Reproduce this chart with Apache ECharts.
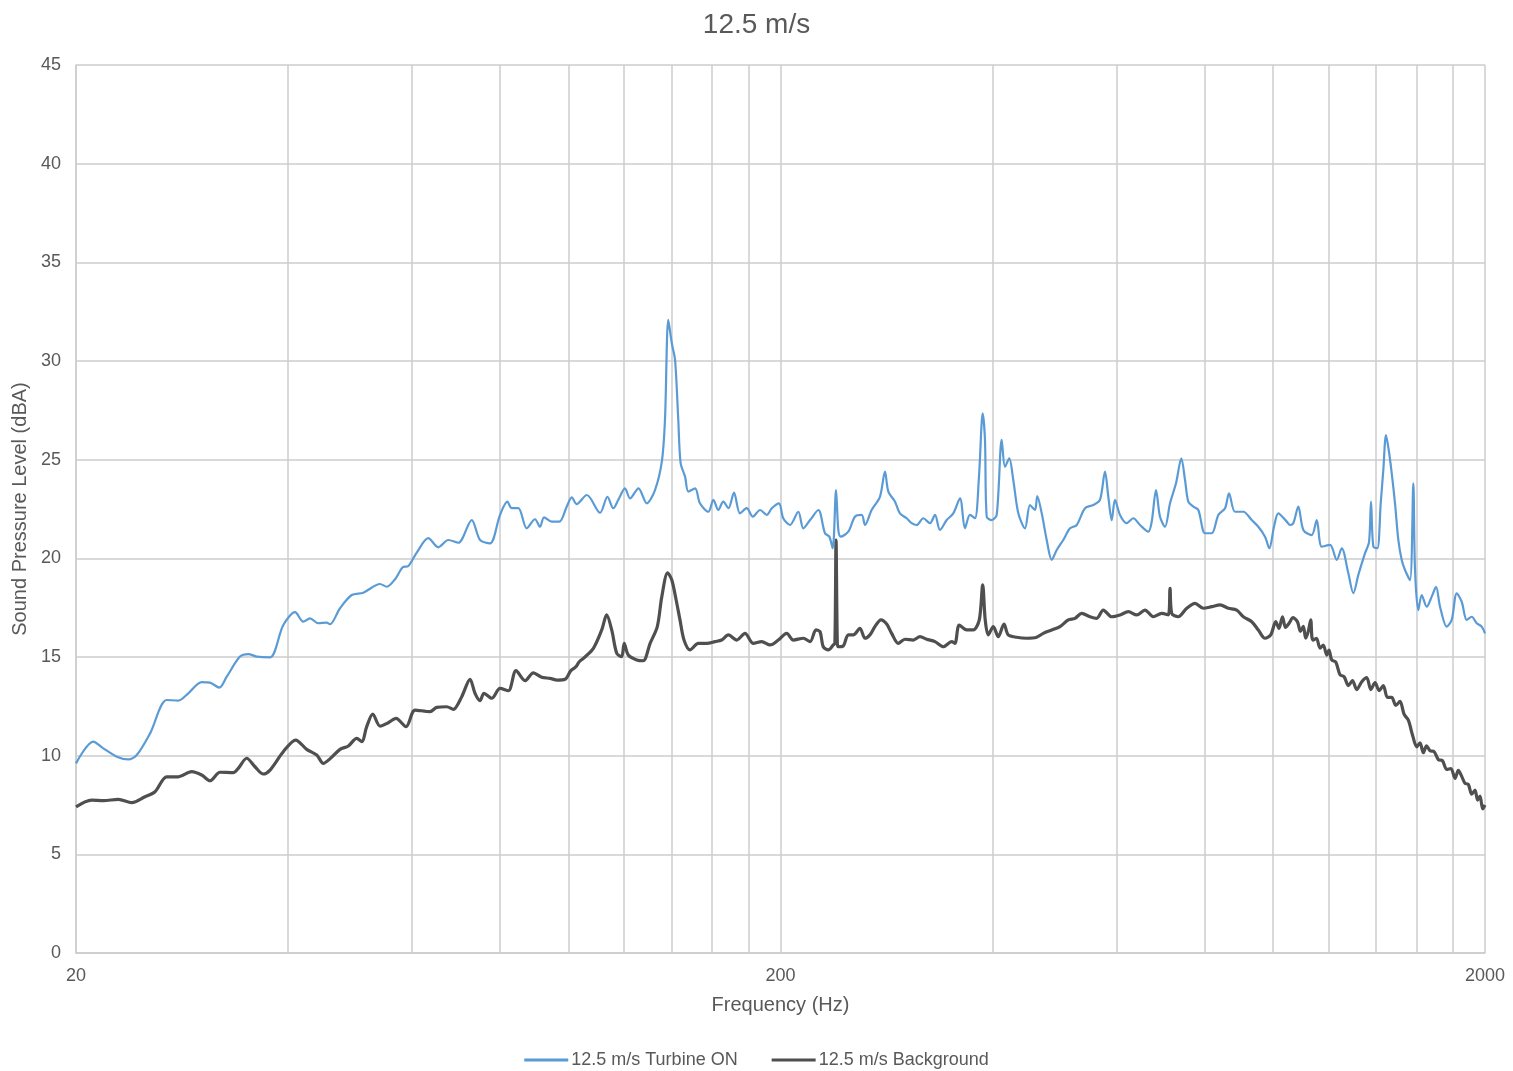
<!DOCTYPE html>
<html>
<head>
<meta charset="utf-8">
<script src="https://cdn.jsdelivr.net/npm/echarts@6/dist/echarts.min.js"></script>
<style>
html,body{margin:0;padding:0;background:#fff;}
#chart{width:1513px;height:1071px;}
</style>
</head>
<body>
<div id="chart"></div>
<script>
const titleText = '12.5 m/s';
const seriesNames = ['12.5 m/s Turbine ON', '12.5 m/s Background'];
const xTickLabels = [20, 200, 2000];
const xGridValues = [20,40,60,80,100,120,140,160,180,200,400,600,800,1000,1200,1400,1600,1800,2000];

const freqOn = [20,21.16,21.87,22.85,23.73,24.39,25.48,26.9,27.94,28.87,30.16,30.99,31.95,32.73,34.18,35.12,36.1,37.71,39.38,40.92,42.04,42.97,44.15,45.38,45.87,47.4,49.25,51.15,54.02,55.22,56.74,58.18,59.26,60.91,63.26,65.36,67.53,69.78,72.9,74.91,77.4,79.97,81.9,83.09,84.9,87.26,89.66,91.14,92.34,94.69,97.07,99.44,101.1,102.7,106.2,110.9,113.6,115.8,117.7,120.3,122.3,125.7,129.2,132.7,135.7,137.1,138.6,140.2,141.7,143.2,144.3,146.4,148,151.3,153.7,158,160.6,163.2,165.9,168.7,171.8,175.2,179.1,182.7,187.1,191.2,194.4,199,201.8,206.3,212,215.5,220.3,226.3,231.3,234.6,237.2,239.8,241.6,243.5,249.6,255.1,260.8,263.6,269.4,276.8,281.4,284.5,290.8,295.5,302.1,307.1,312.1,318.9,326,331.4,336.8,344.3,351.8,359.6,365.5,371.5,377.6,382.6,387.3,390.2,392.4,398.8,405.4,412.1,416.6,422.4,428,435.1,444.7,452,459.5,462.9,469.7,477.4,485.3,493.3,504,515.2,526.6,541.1,555.9,568.2,577.6,583.9,590.4,596.8,606.6,620.1,633.6,647.6,665.4,672.9,682.4,691.4,702.8,714.4,728.5,741.3,750.3,758.4,770.9,783.6,801,818.7,836.6,855.1,866.3,883.5,907.8,933.1,953.4,974.5,988.3,1003.6,1017.8,1046.2,1057.5,1069,1086.6,1104.5,1135.2,1153.9,1172.9,1205.2,1231.9,1252.2,1279.5,1300.6,1322,1351.3,1369.1,1378,1388.4,1406.7,1422.4,1434.5,1447.2,1460.1,1474.5,1490.4,1506.6,1523.4,1539.9,1565.3,1582.3,1591.1,1608.4,1626.3,1653.1,1680.4,1704.2,1726.6,1764.8,1793.9,1823.5,1853.5,1884.1,1915.1,1946.7,1978.5,2000];
const dbOn = [9.61,10.71,10.37,9.95,9.81,10.03,11.13,12.82,12.79,13.16,13.73,13.7,13.45,14,15.02,15.15,15.02,14.98,16.62,17.27,16.79,16.96,16.71,16.74,16.66,17.47,18.14,18.26,18.7,18.56,18.94,19.55,19.61,20.29,21.02,20.56,20.93,20.79,21.94,20.93,20.76,22.2,22.87,22.54,22.54,21.52,21.98,21.6,22.08,21.86,21.86,22.62,23.09,22.75,23.21,22.31,23.12,22.54,22.96,23.55,23.04,23.55,22.79,23.46,24.9,27.01,32.08,30.9,30.05,27.01,24.82,24.14,23.38,23.55,22.79,22.36,22.96,22.45,22.87,22.54,23.33,22.28,22.54,22.11,22.45,22.2,22.54,22.79,22.03,21.69,22.36,21.52,21.94,22.45,21.27,21.1,20.51,23.46,21.44,21.1,21.35,22.11,22.2,21.69,22.45,23.12,24.39,23.38,22.87,22.28,22.03,21.78,21.69,22.03,21.78,22.2,21.44,21.94,22.28,23.04,21.52,22.2,22.03,24.14,27.35,26,22.11,21.94,22.2,26,24.64,25.07,23.97,22.28,21.52,22.7,22.45,23.16,22.28,20.93,19.92,20.42,20.93,21.52,21.69,22.54,22.7,22.96,24.39,23.12,21.94,22.96,22.2,21.78,22.03,21.69,21.35,21.86,23.46,22.11,21.6,22.79,23.8,25.07,23.97,22.87,22.62,22.45,21.27,21.27,22.2,22.54,23.29,22.36,22.36,21.94,21.6,21.1,20.51,21.6,22.28,21.86,21.69,21.78,22.62,21.44,21.18,21.94,20.59,20.68,19.92,20.51,19.24,18.23,19.16,20.26,20.84,22.87,20.59,20.51,22.79,24.48,26.25,25.49,24.31,22.79,20.93,19.92,19.41,18.9,23.8,19.41,17.38,18.14,17.55,18.06,18.56,17.55,16.54,16.88,18.23,17.8,16.88,17.04,16.71,16.54,16.2];

const freqBg = [20,21.05,21.87,22.97,24,25.06,25.89,26.9,27.94,29.19,30.16,30.99,32.02,33.44,33.99,34.94,35.9,36.89,37.71,39.38,41.01,42.51,43.93,44.88,45.9,47.4,48.71,50.06,50.89,51.72,52.75,54.02,55.51,56.92,58.81,60.57,63.61,65.02,67.18,68.64,70.56,72.5,73.69,74.91,75.89,77.83,79.97,82.17,84.26,86.78,89.17,91.65,94.17,96.44,98.89,100.8,102.5,103.6,105,108.5,111.5,113.3,115.2,117.1,119,120,121.6,125,127.7,130.6,133.7,135.7,138.3,140.2,142.2,144,145.9,148.8,152.9,157.2,161.5,165,168.7,173.3,178.1,183,188.1,193.3,198.6,204.1,208.6,215.5,220.3,224.6,227.6,230,233.8,237.7,238.9,239.8,240.8,241.6,245.5,249.6,253.7,259.3,263.6,267.9,272.3,277.8,283,287.6,293.9,300.4,308.7,315.5,322.5,331.4,340.5,349.9,353.7,358.7,367.5,375.5,383,387.3,390.5,394.4,400.9,407.5,415.2,421,432.8,447.1,462,472.1,485.3,498.6,512.3,523.7,535.3,550,562.2,574.4,590.4,606.6,623.3,640.7,658.3,676.4,695.2,710.4,714.4,718.3,734,754.5,775.2,796.5,818.7,841.2,864.4,888.4,907.8,933.1,953.4,974.5,992.9,1009.3,1020,1031.6,1042,1054.1,1068,1083.5,1094,1104.5,1113,1122.6,1131.5,1136,1141.1,1153,1166.4,1179,1192.2,1201,1211.9,1228,1245.2,1262,1279.5,1297,1315.1,1337,1358.8,1377,1396.2,1415,1434.5,1454,1474.5,1494,1515,1535,1556.7,1578,1600,1617,1634.9,1652,1671.2,1694,1717.1,1740,1764.8,1789,1813.4,1833,1853.5,1873,1893.9,1915,1935.9,1952,1967.6,1985,2000];
const dbBg = [7.41,7.75,7.72,7.79,7.62,7.92,8.17,8.93,8.93,9.19,9.02,8.73,9.16,9.14,9.36,9.87,9.44,9.07,9.27,10.2,10.79,10.32,10.03,9.61,9.85,10.32,10.49,10.88,10.71,11.47,12.11,11.5,11.67,11.89,11.47,12.31,12.23,12.45,12.48,12.35,12.99,13.87,13.16,12.79,13.16,12.91,13.41,13.29,14.31,13.8,14.2,13.97,13.92,13.83,13.87,14.31,14.51,14.76,14.93,15.44,16.37,17.13,16.37,15.19,15.02,15.69,15.1,14.85,14.81,15.69,16.54,18.06,19.27,18.9,17.89,16.88,15.86,15.36,15.69,15.69,15.78,15.86,16.12,15.86,16.2,15.69,15.78,15.61,15.86,16.2,15.86,15.95,15.78,16.37,16.28,15.52,15.36,15.61,15.7,20.93,15.7,15.52,15.56,16.12,16.12,16.45,15.95,16.12,16.54,16.88,16.67,16.2,15.69,15.9,15.86,16.03,15.9,15.78,15.52,15.78,15.69,16.62,16.37,16.37,16.88,18.65,16.88,16.12,16.54,16.03,16.67,16.12,16,15.95,16,16.2,16.37,16.54,16.88,16.96,17.21,17.04,16.96,17.38,17.04,17.13,17.3,17.13,17.38,17.04,17.21,17.13,18.48,17.21,17.04,17.47,17.72,17.47,17.55,17.64,17.47,17.38,17.04,16.79,16.37,15.95,16.12,16.79,16.45,17.04,16.5,16.71,17.0,16.79,16.3,16.55,15.95,16.3,16.88,16.0,15.86,15.95,15.45,15.6,15.1,15.35,14.85,14.75,14.1,14.0,13.55,13.8,13.35,13.75,13.95,13.35,13.7,13.3,13.55,12.95,12.95,12.55,12.75,12.1,11.8,11.05,10.45,10.65,10.15,10.5,10.25,10.2,9.8,9.75,9.3,9.35,8.85,9.25,8.95,8.6,8.55,8.05,8.25,7.75,7.95,7.3,7.5];

const pairs = (f, v) => f.map((x, i) => [x, v[i]]);
const textColor = '#595959';
const gridColor = '#cccccc';
const blue = '#5B9BD5';
const dark = '#4f4f4f';
const fontFamily = '"Liberation Sans", Arial, sans-serif';

const chart = echarts.init(document.getElementById('chart'), null, {renderer: 'canvas'});
chart.setOption({
  animation: false,
  backgroundColor: '#ffffff',
  textStyle: {fontFamily: fontFamily},
  title: {
    text: titleText,
    left: 'center',
    top: 6,
    textStyle: {fontSize: 28, fontWeight: 'normal', color: textColor, fontFamily: fontFamily}
  },
  legend: {
    top: 1046,
    left: 'center',
    itemWidth: 44,
    itemHeight: 3,
    itemGap: 34,
    textStyle: {fontSize: 18, color: textColor, fontFamily: fontFamily, padding: [0,0,0,-2]},
    data: [
      {name: seriesNames[0], icon: 'rect', itemStyle: {color: blue}},
      {name: seriesNames[1], icon: 'rect', itemStyle: {color: dark}}
    ]
  },
  grid: {left: 76, right: 28, top: 65, bottom: 118, containLabel: false},
  xAxis: {
    type: 'log',
    logBase: 10,
    min: 20,
    max: 2000,
    name: 'Frequency (Hz)',
    nameLocation: 'middle',
    nameGap: 42,
    nameTextStyle: {fontSize: 20, color: textColor, fontFamily: fontFamily},
    axisLine: {show: true, lineStyle: {color: gridColor, width: 1.5}},
    axisTick: {show: false, customValues: xGridValues},
    axisLabel: {customValues: xTickLabels, fontSize: 18, color: textColor, margin: 14, fontFamily: fontFamily,
      formatter: v => String(Math.round(v))},
    splitLine: {show: true, lineStyle: {color: gridColor, width: 1.5}}
  },
  yAxis: {
    type: 'value',
    min: 0,
    max: 45,
    interval: 5,
    name: 'Sound Pressure Level (dBA)',
    nameLocation: 'middle',
    nameGap: 43,
    nameTextStyle: {fontSize: 20, color: textColor, fontFamily: fontFamily},
    axisLine: {show: true, lineStyle: {color: gridColor, width: 1.5}},
    axisTick: {show: false},
    axisLabel: {fontSize: 18, color: textColor, margin: 15, fontFamily: fontFamily},
    splitLine: {show: true, lineStyle: {color: gridColor, width: 1.5}}
  },
  series: [
    {
      name: seriesNames[0],
      type: 'line',
      data: pairs(freqOn, dbOn),
      showSymbol: false,
      symbol: 'none',
      smooth: 0.3,
      lineStyle: {color: blue, width: 2.2},
      itemStyle: {color: blue},
      z: 3
    },
    {
      name: seriesNames[1],
      type: 'line',
      data: pairs(freqBg, dbBg),
      showSymbol: false,
      symbol: 'none',
      smooth: 0.3,
      lineStyle: {color: dark, width: 3.2},
      itemStyle: {color: dark},
      z: 2
    }
  ]
});
</script>
</body>
</html>
